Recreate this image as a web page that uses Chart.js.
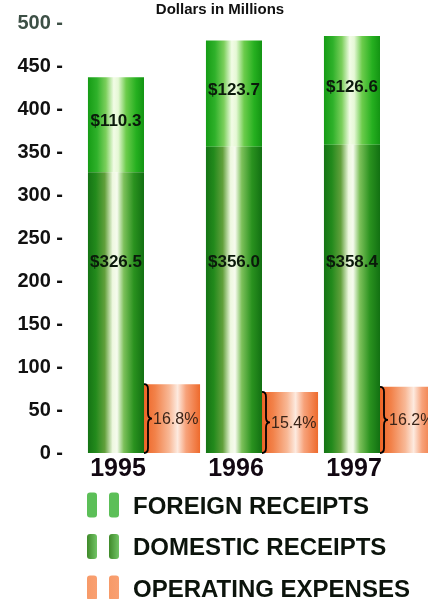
<!DOCTYPE html>
<html>
<head>
<meta charset="utf-8">
<title>Receipts and Operating Expenses</title>
<script src="https://cdn.jsdelivr.net/npm/chart.js@4/dist/chart.umd.min.js"></script>
<style>
  html, body { margin: 0; padding: 0; background: #ffffff; overflow: hidden; width: 428px; height: 599px; }
  #wrap { position: relative; width: 446px; height: 599px; }
</style>
</head>
<body>
<div id="wrap"><canvas id="chart" width="446" height="599"></canvas></div>
<script>
// Fiscal years shown on the category axis
const years = ['1995', '1996', '1997'];
// Receipts, dollars in millions
const domesticReceipts = [326.5, 356.0, 358.4];
const foreignReceipts = [110.3, 123.7, 126.6];
// Operating expenses, dollars in millions, and their share of total receipts
const operatingExpenses = [80, 71, 77];
const expenseShare = ['16.8%', '15.4%', '16.2%'];
// Value axis
const yMin = 0;
const yMax = 500;
const yStep = 50;

const FONT = '"Liberation Sans", Arial, Helvetica, sans-serif';

// Cylinder-like shading across each bar
const shades = {
  domestic: [[0, '#147414'], [0.14, '#238a1c'], [0.3, '#62a03c'], [0.44, '#eef8e0'], [0.52, '#f6fbee'], [0.64, '#7cc05a'], [0.82, '#2a921f'], [1, '#127012']],
  foreign:  [[0, '#159c15'], [0.16, '#2fb12a'], [0.32, '#7ccf5c'], [0.46, '#f2fce6'], [0.54, '#e6f8d6'], [0.68, '#6ccc4c'], [0.86, '#26b020'], [1, '#139413']],
  expenses: [[0, '#ee6426'], [0.2, '#f2824a'], [0.45, '#f8b896'], [0.6, '#fdeadf'], [0.75, '#f7a27a'], [1, '#ee6a2c']]
};

function barFill(stops, fallback) {
  return (ctx) => {
    const el = ctx.element;
    if (!el || !ctx.chart.chartArea || typeof el.x !== 'number' || isNaN(el.x) || !el.width) return fallback;
    const g = ctx.chart.ctx.createLinearGradient(el.x - el.width / 2, 0, el.x + el.width / 2, 0);
    stops.forEach(([o, c]) => g.addColorStop(o, c));
    return g;
  };
}

const legendItems = [
  { label: 'FOREIGN RECEIPTS', left: '#5cbf58', right: '#5cbf58' },
  { label: 'DOMESTIC RECEIPTS', left: '#3f8a2a', right: '#72c466' },
  { label: 'OPERATING EXPENSES', left: '#f79a68', right: '#f9a072' }
];

function roundRect(c, x, y, w, h, r) {
  c.beginPath();
  c.moveTo(x + r, y);
  c.lineTo(x + w - r, y);
  c.quadraticCurveTo(x + w, y, x + w, y + r);
  c.lineTo(x + w, y + h - r);
  c.quadraticCurveTo(x + w, y + h, x + w - r, y + h);
  c.lineTo(x + r, y + h);
  c.quadraticCurveTo(x, y + h, x, y + h - r);
  c.lineTo(x, y + r);
  c.quadraticCurveTo(x, y, x + r, y);
  c.closePath();
}

// Title, value labels, braces, year labels and legend
const annotations = {
  id: 'annotations',
  afterDatasetsDraw(chart) {
    const c = chart.ctx;
    const y = chart.scales.y;
    const dom = chart.getDatasetMeta(0).data;
    const frn = chart.getDatasetMeta(1).data;
    const exp = chart.getDatasetMeta(2).data;
    c.save();

    // title
    c.fillStyle = '#111111';
    c.font = 'bold 15px ' + FONT;
    c.textAlign = 'center';
    c.textBaseline = 'middle';
    c.fillText('Dollars in Millions', 220, 10);

    // receipts values
    c.font = 'bold 17px ' + FONT;
    c.fillStyle = '#0b1a0b';
    years.forEach((yr, i) => {
      const d = dom[i], f = frn[i];
      c.textAlign = 'center';
      c.fillText('$' + domesticReceipts[i].toFixed(1), d.x, y.getPixelForValue(222));
      const mid = domesticReceipts[i] + foreignReceipts[i] / 2 + 4;
      c.fillText('$' + foreignReceipts[i].toFixed(1), f.x, y.getPixelForValue(mid));
    });

    // braces and expense share
    exp.forEach((e, i) => {
      const x0 = e.x - e.width / 2;
      const top = e.y, bot = e.base, mid = (top + bot) / 2;
      c.strokeStyle = '#000000';
      c.lineWidth = 1.8;
      c.beginPath();
      c.moveTo(x0, top);
      c.quadraticCurveTo(x0 + 4, top, x0 + 4, top + 5);
      c.lineTo(x0 + 4, mid - 5);
      c.quadraticCurveTo(x0 + 4, mid, x0 + 8, mid);
      c.quadraticCurveTo(x0 + 4, mid, x0 + 4, mid + 5);
      c.lineTo(x0 + 4, bot - 5);
      c.quadraticCurveTo(x0 + 4, bot, x0, bot);
      c.stroke();
      c.fillStyle = '#3a2418';
      c.font = '16px ' + FONT;
      c.textAlign = 'left';
      c.fillText(expenseShare[i], x0 + 9, mid + 1);
    });

    // year labels under the receipts bars
    c.fillStyle = '#120812';
    c.font = 'bold 25px ' + FONT;
    c.textAlign = 'center';
    years.forEach((yr, i) => c.fillText(yr, dom[i].x + 2, 469));

    // legend
    c.font = 'bold 24px ' + FONT;
    c.textAlign = 'left';
    legendItems.forEach((it, i) => {
      const cy = 505 + i * 41.5;
      [87, 109].forEach((bx) => {
        const g = c.createLinearGradient(bx, 0, bx + 10, 0);
        g.addColorStop(0, it.left);
        g.addColorStop(1, it.right);
        c.fillStyle = g;
        roundRect(c, bx, cy - 12.5, 10, 25, 3);
        c.fill();
      });
      c.fillStyle = '#0c140c';
      c.fillText(it.label, 133, cy + 2);
    });
    c.restore();
  }
};

const chart = new Chart(document.getElementById('chart'), {
  type: 'bar',
  data: {
    labels: years,
    datasets: [
      { label: 'DOMESTIC RECEIPTS', data: domesticReceipts, stack: 'receipts',
        backgroundColor: barFill(shades.domestic, '#2a8a1c') },
      { label: 'FOREIGN RECEIPTS', data: foreignReceipts, stack: 'receipts',
        backgroundColor: barFill(shades.foreign, '#2fb12a') },
      { label: 'OPERATING EXPENSES', data: operatingExpenses, stack: 'expenses',
        backgroundColor: barFill(shades.expenses, '#f2824a') }
    ]
  },
  options: {
    responsive: false,
    devicePixelRatio: 1,
    animation: false,
    events: [],
    layout: { padding: { left: 0, right: 7, top: 23, bottom: 146 } },
    datasets: { bar: { categoryPercentage: 0.95, barPercentage: 1, borderWidth: 0 } },
    plugins: { legend: { display: false }, tooltip: { enabled: false }, title: { display: false } },
    scales: {
      x: { display: false, stacked: true },
      y: {
        stacked: true,
        min: yMin, max: yMax,
        grid: { display: false, drawTicks: false },
        border: { display: false },
        afterFit(scale) {
          scale.width = 85;
          scale.paddingTop = 10;
          scale.paddingBottom = 10;
        },
        ticks: {
          stepSize: yStep,
          padding: 22,
          font: { family: FONT, size: 20, weight: 'bold' },
          color: (ctx) => (ctx.tick && ctx.tick.value === yMax ? '#3d5046' : '#111111'),
          callback: (v) => v + ' -'
        }
      }
    }
  },
  plugins: [annotations]
});
// second pass so the bar shading can use the laid-out bar positions
chart.update();
</script>
</body>
</html>
